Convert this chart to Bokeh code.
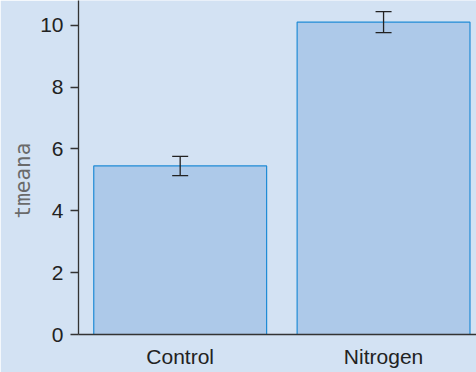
from bokeh.plotting import figure
from bokeh.models import ColumnDataSource, Range1d, FixedTicker, Whisker, TeeHead, Title
from bokeh.embed import file_html
from bokeh.resources import INLINE

# Treatment means with their standard errors
groups = ["Control", "Nitrogen"]
tmeana = [5.45, 10.1]
se = [0.31, 0.34]

xpos = [i + 0.5 for i in range(len(groups))]
src = ColumnDataSource(dict(
    x=xpos,
    top=tmeana,
    lower=[m - s for m, s in zip(tmeana, se)],
    upper=[m + s for m, s in zip(tmeana, se)],
))

bg = "#d3e2f3"
p = figure(width=476, height=372, output_backend="svg", toolbar_location=None,
           x_range=Range1d(0, 1.957), y_range=Range1d(0, 10.8),
           min_border_left=78, min_border_right=0, min_border_top=0,
           min_border_bottom=38)
p.background_fill_color = bg
p.border_fill_color = bg
p.outline_line_color = None
p.grid.visible = False

p.vbar(x="x", top="top", width=0.85, bottom=0, source=src,
       fill_color="#adc9e9", line_color="#1f8bd6", line_width=1.2)

err = Whisker(base="x", lower="lower", upper="upper", source=src, level="overlay",
              line_color="#222222", line_width=1.3,
              upper_head=TeeHead(size=16, line_color="#222222", line_width=1.3),
              lower_head=TeeHead(size=16, line_color="#222222", line_width=1.3))
p.add_layout(err)

# x axis: group names only, no tick marks
p.xaxis.ticker = FixedTicker(ticks=xpos)
p.xaxis.major_label_overrides = {x: g for x, g in zip(xpos, groups)}
p.xaxis.major_tick_line_color = None
p.xaxis.major_tick_out = 0
p.xaxis.major_tick_in = 0
p.xaxis.minor_tick_line_color = None
p.xaxis.major_label_text_font = "Liberation Sans"
p.xaxis.major_label_text_font_size = "21px"
p.xaxis.major_label_text_color = "#222222"
p.xaxis.major_label_standoff = 10
p.xaxis.axis_line_color = "#333333"
p.xaxis.axis_line_width = 1.3

# y axis
p.yaxis.ticker = FixedTicker(ticks=[0, 2, 4, 6, 8, 10])
p.yaxis.minor_tick_line_color = None
p.yaxis.major_tick_in = 0
p.yaxis.major_tick_out = 8
p.yaxis.major_tick_line_color = "#333333"
p.yaxis.major_tick_line_width = 1.3
p.yaxis.axis_line_color = "#333333"
p.yaxis.axis_line_width = 1.3
p.yaxis.major_label_text_font = "Liberation Sans"
p.yaxis.major_label_text_font_size = "21px"
p.yaxis.major_label_text_color = "#222222"
p.yaxis.major_label_standoff = 7

# y axis title as a side title, anchored from the bottom of the frame
ytitle = Title(text="tmeana", align="left", offset=116, standoff=6,
               text_font="DejaVu Sans Mono", text_font_size="21px",
               text_font_style="normal", text_color="#6a6a6a")
p.add_layout(ytitle, "left")

open("out.html", "w").write(file_html(p, INLINE))
